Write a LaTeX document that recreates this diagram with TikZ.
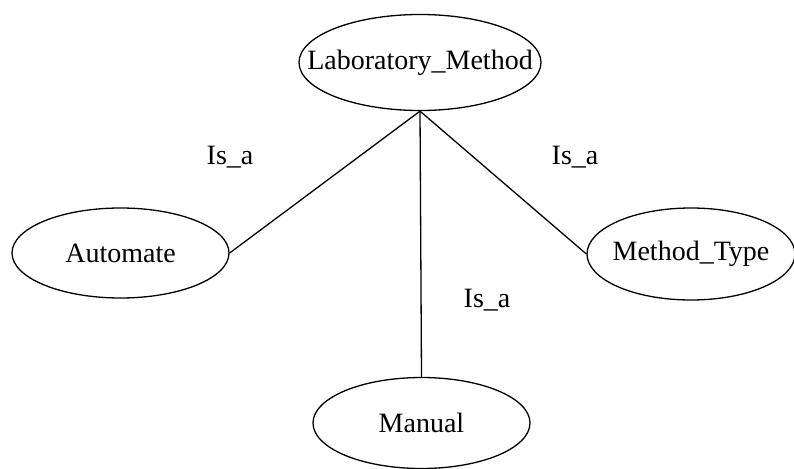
\documentclass[tikz,border=0pt]{standalone}
\usepackage{fontspec}
\setmainfont{Liberation Serif}
\usetikzlibrary{shapes.geometric}
\begin{document}
\begin{tikzpicture}[x=1pt,y=-1pt,
  concept/.style={draw=black, line width=1.3pt, shape=ellipse, inner sep=0pt,
    font=\fontsize{28}{32}\selectfont},
  link/.style={draw=black, line width=1.3pt},
  rel/.style={font=\fontsize{28}{32}\selectfont, inner sep=0pt}]
\useasboundingbox (0,0) rectangle (794,468);
% concepts
\node[concept, minimum width=242pt, minimum height=96pt] (lab) at (420,62.5) {\makebox[0pt]{Laboratory\_Method}};
\node[concept, minimum width=217pt, minimum height=90pt] (auto) at (120.5,253) {\makebox[0pt]{Automate}};
\node[concept, minimum width=208pt, minimum height=92pt] (mtype) at (691,254) {\makebox[0pt]{Method\_Type}};
\node[concept, minimum width=217pt, minimum height=91pt] (man) at (421.5,423) {\makebox[0pt]{Manual}};
% is-a links
\draw[link] (lab.south) -- (auto.east);
\draw[link] (lab.south) -- (mtype.west);
\draw[link] (lab.south) -- (man.north);
% relation labels
\node[rel] (r1) at (230,157) {Is\_a};
\node[rel] (r2) at (575,157) {Is\_a};
\node[rel] (r3) at (487,300) {Is\_a};
\end{tikzpicture}
\end{document}
